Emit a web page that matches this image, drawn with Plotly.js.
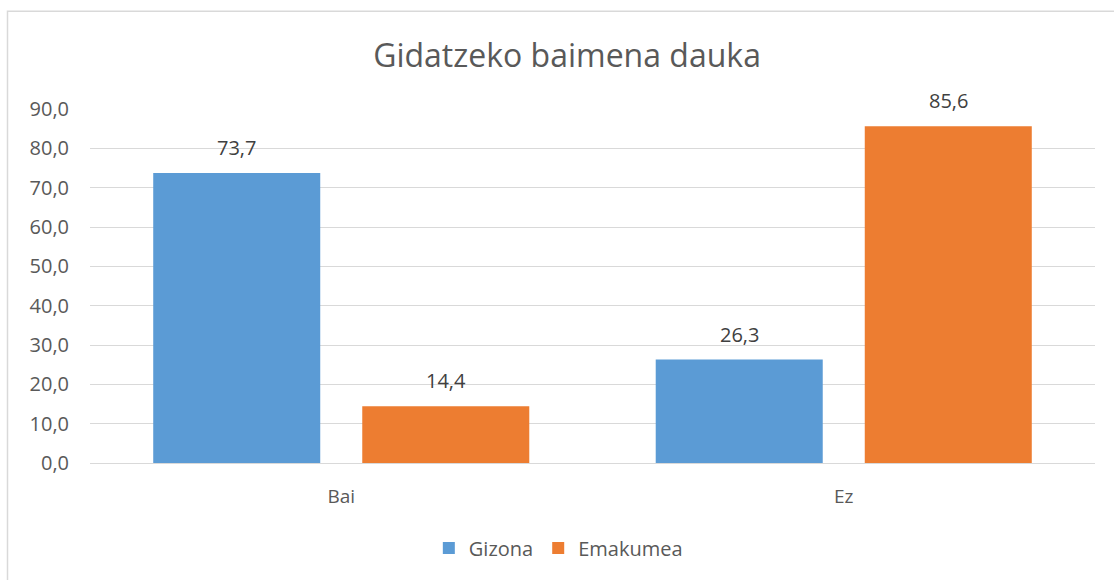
<!DOCTYPE html>
<html>
<head>
<meta charset="utf-8">
<script src="https://cdn.plot.ly/plotly-3.0.1.min.js"></script>
<style>html,body{margin:0;padding:0;background:#fff;}#chart{width:1114px;height:580px;}</style>
</head>
<body>
<div id="chart"></div>
<script>
const categories = ["Bai", "Ez"];
const seriesNames = ["Gizona", "Emakumea"];
const gizona = [73.7, 26.3];
const emakumea = [14.4, 85.6];
const yTickVals = [0, 10, 20, 30, 40, 50, 60, 70, 80, 90];

const colors = ["#5B9BD5", "#ED7D31"];
const txt = "#595959";
const FONT = "Open Sans, sans-serif";
const series = [gizona, emakumea];

const bargap = 0.168;
const traces = series.map((vals, i) => ({
  type: "bar",
  name: seriesNames[i],
  x: categories,
  y: vals,
  marker: {color: colors[i]},
  hoverinfo: "none"
}));

const slot = (1 - bargap) / series.length;
const annotations = [];
series.forEach((vals, i) => {
  vals.forEach((v, j) => {
    annotations.push({
      x: j + (i - (series.length - 1) / 2) * slot,
      y: v,
      xref: "x", yref: "y",
      text: v.toFixed(1).replace(".", ","),
      showarrow: false,
      yanchor: "bottom",
      yshift: 10,
      font: {family: FONT, size: 20, color: "#404040"}
    });
  });
});

const layout = {
  width: 1114, height: 580,
  margin: {l: 90, r: 19, t: 108.5, b: 117},
  paper_bgcolor: "#fff", plot_bgcolor: "#fff",
  font: {family: FONT, color: txt, size: 19},
  separators: ", ",
  title: {text: "Gidatzeko baimena dauka", x: 0.509, xref: "container", xanchor: "center",
          y: 1 - 56 / 580, yref: "container", yanchor: "middle",
          font: {family: FONT, size: 32, color: txt}},
  bargap: bargap,
  bargroupgap: 0.201,
  barmode: "group",
  xaxis: {type: "category", showgrid: false, zeroline: false, showline: false,
          ticks: "", ticklabelstandoff: 20, tickfont: {size: 19, color: txt}},
  yaxis: {range: [0, 90], tickvals: yTickVals, tickformat: ".1f", showgrid: true,
          gridcolor: "#d9d9d9", gridwidth: 1, zeroline: true, zerolinecolor: "#d9d9d9",
          zerolinewidth: 1, showline: false, ticks: "", ticklabelstandoff: 20,
          tickfont: {size: 20, color: txt}, fixedrange: true},
  legend: {orientation: "h", x: 0.466, xanchor: "center", y: -0.24, yanchor: "middle",
           font: {size: 20, color: txt}, itemwidth: 30, traceorder: "normal"},
  annotations: annotations,
  shapes: [{type: "rect", xref: "paper", yref: "paper",
            x0: (7.5 - 90) / 1005, x1: (1130 - 90) / 1005,
            y0: (463 - 600) / 354.5, y1: (463 - 10.5) / 354.5,
            line: {color: "#d9d9d9", width: 1.5}, fillcolor: "rgba(0,0,0,0)", layer: "below"}]
};

Plotly.newPlot("chart", traces, layout, {displayModeBar: false, staticPlot: true});
</script>
</body>
</html>
